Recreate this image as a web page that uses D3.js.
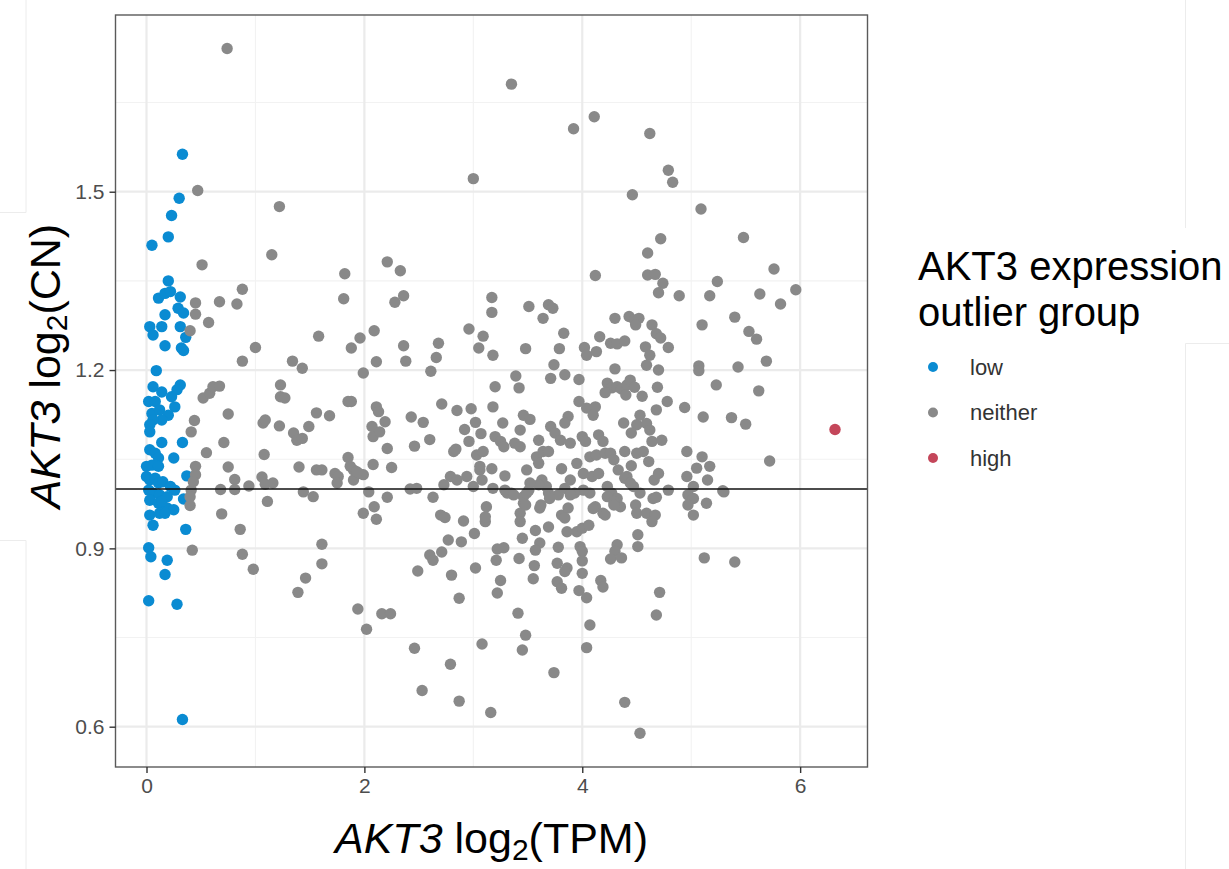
<!DOCTYPE html>
<html>
<head>
<meta charset="utf-8">
<script src="https://cdn.jsdelivr.net/npm/d3@7"></script>
<style>
  body { margin: 0; background: #fff; }
  svg { display: block; font-family: "Liberation Sans", Arial, sans-serif; }
</style>
</head>
<body>
<div id="chart"></div>
<script>
// AKT3 log2(TPM), AKT3 log2(CN) pairs per outlier group
const lowPoints = [
  [0.33,1.563],[0.30,1.489],[0.23,1.46],[0.20,1.424],[0.05,1.41],[0.20,1.35],
  [0.11,1.321],[0.17,1.329],[0.22,1.332],[0.31,1.323],[0.29,1.304],[0.34,1.296],[0.17,1.293],
  [0.03,1.273],[0.06,1.259],[0.14,1.273],[0.31,1.273],[0.36,1.255],[0.17,1.241],[0.32,1.237],[0.34,1.233],
  [0.09,1.199],[0.06,1.172],[0.14,1.163],[0.31,1.175],[0.28,1.167],[0.23,1.155],[0.26,1.138],
  [0.02,1.147],[0.08,1.147],[0.05,1.127],[0.12,1.133],[0.20,1.124],[0.14,1.116],[0.06,1.116],
  [0.03,1.108],[0.03,1.096],[0.14,1.078],[0.33,1.078],[0.03,1.066],[0.08,1.06],[0.11,1.052],[0.25,1.052],
  [0.00,1.038],[0.05,1.04],[0.11,1.038],[0.37,1.022],[0.00,1.021],[0.03,1.015],[0.08,1.018],[0.11,1.01],
  [0.15,1.012],[0.22,1.004],[0.26,0.998],[0.02,0.998],[0.06,0.993],[0.12,0.99],[0.19,0.987],[0.34,0.983],
  [0.03,0.981],[0.11,0.976],[0.19,0.968],[0.25,0.965],[0.14,0.979],[0.03,0.956],[0.12,0.959],[0.17,0.959],
  [0.06,0.939],[0.36,0.932],[0.02,0.901],[0.04,0.886],[0.19,0.88],[0.17,0.856],[0.02,0.812],[0.28,0.806],
  [0.33,0.612]
]

const neitherPoints = [
  // sparse top
  [0.74,1.741],[0.47,1.502],[1.22,1.475],[1.15,1.394],[0.51,1.377],[1.82,1.362],[2.21,1.382],[2.33,1.367],
  [3.00,1.522],[3.35,1.681],[4.11,1.626],[3.92,1.606],[4.62,1.598],[4.79,1.536],[4.83,1.516],[4.46,1.495],
  [5.09,1.471],[4.72,1.421],[5.48,1.423],[4.60,1.397],[5.76,1.37],[4.12,1.359],[4.60,1.36],[4.67,1.361],
  [5.24,1.349],[4.74,1.346],[4.70,1.33],[4.89,1.325],[5.17,1.325],[5.63,1.328],[5.96,1.335],[5.82,1.311],
  // left side
  [0.45,1.313],[0.45,1.294],[0.40,1.266],[0.57,1.28],[0.67,1.315],[0.83,1.311],[0.88,1.336],[0.88,1.215],
  [1.00,1.238],[1.58,1.257],[1.81,1.32],[1.34,1.215],[1.43,1.203],[1.23,1.175],[1.23,1.155],[1.27,1.153],
  [0.52,1.153],[0.58,1.161],[0.61,1.172],[0.67,1.173],[0.44,1.115],[0.41,1.096],[0.75,1.126],[0.71,1.078],
  [0.55,1.061],[1.07,1.111],[1.09,1.116],[1.22,1.106],[1.08,1.058],[1.35,1.094],[1.38,1.082],[1.43,1.085],
  [1.49,1.105],[1.56,1.128],[1.68,1.123],[1.85,1.147],[0.45,1.038],[0.45,1.024],[0.43,1.012],[0.41,0.998],
  [0.40,0.987],[0.40,0.972],[0.75,1.037],[0.81,1.016],[0.81,0.999],[0.68,0.999],[0.94,1.005],[1.06,1.02],
  [1.09,1.008],[1.16,1.01],[1.40,1.037],[1.56,1.032],[1.61,1.032],[1.44,0.995],[1.53,0.987],[1.73,1.026],
  [1.76,1.021],[1.75,1.01],[1.85,1.053],[1.90,1.032],[1.95,1.026],[1.90,1.015],[1.99,1.024],
  [0.42,0.897],[0.69,0.958],[0.86,0.932],[0.88,0.89],[0.98,0.865],[1.11,0.979],[1.61,0.907],[1.61,0.874],
  [1.46,0.85],[1.39,0.826],
  // middle
  [2.28,1.314],[2.36,1.325],[2.09,1.266],[1.96,1.254],[1.88,1.237],[2.11,1.214],[1.99,1.195],[2.36,1.241],
  [2.38,1.215],[2.68,1.245],[2.66,1.221],[2.61,1.198],[2.96,1.269],[3.05,1.237],[1.88,1.147],[2.11,1.138],
  [2.13,1.13],[2.07,1.105],[2.08,1.088],[2.14,1.096],[2.19,1.113],[2.21,1.068],[2.43,1.121],[2.54,1.112],
  [2.46,1.072],[2.60,1.083],[2.71,1.143],[2.85,1.132],[2.98,1.135],[3.02,1.112],[2.92,1.10],[2.96,1.08],
  [3.07,1.093],[2.82,1.063],[2.84,1.067],[3.03,1.057],[2.08,1.041],[2.25,1.036],[1.87,1.038],[1.93,1.029],
  [2.04,0.995],[2.42,1.0],[2.48,1.001],[2.73,1.007],[2.79,1.021],[2.85,1.015],[2.94,1.021],[3.00,1.004],
  [3.06,1.032],[3.08,1.015],[2.21,0.986],[2.63,0.986],
  [1.99,0.959],[2.09,0.97],[2.11,0.949],[1.94,0.798],[2.16,0.79],[2.24,0.79],[2.02,0.764],[2.46,0.732],
  [2.53,0.661],[2.79,0.705],[2.87,0.643],[3.16,0.624],[3.08,0.739],[2.49,0.862],[2.80,0.855],[2.87,0.816],
  [3.02,0.867],[3.22,0.825],[3.25,0.846],[3.21,0.88],[2.60,0.889],[2.63,0.88],[2.71,0.894],[2.77,0.914],
  [2.89,0.911],[3.01,0.925],[2.70,0.956],[2.74,0.952],[2.91,0.946],[3.11,0.945],[3.22,0.899],[3.28,0.901],
  [3.41,0.791],
  // dense centre
  [3.17,1.322],[3.17,1.297],[3.51,1.307],[3.69,1.31],[3.73,1.304],[3.64,1.287],[3.09,1.257],[3.18,1.225],
  [3.48,1.236],[3.79,1.236],[3.83,1.262],[3.74,1.209],[3.84,1.192],[3.71,1.186],[3.97,1.184],[3.39,1.19],
  [3.42,1.17],[3.20,1.172],[3.18,1.138],
  [4.30,1.287],[4.43,1.29],[4.48,1.284],[4.52,1.287],[4.49,1.276],[4.64,1.276],[4.68,1.261],[4.72,1.254],
  [4.79,1.238],[4.16,1.256],[4.02,1.238],[4.04,1.225],[4.13,1.231],[4.26,1.245],[4.32,1.244],[4.39,1.249],
  [4.58,1.239],[4.62,1.225],[4.59,1.208],[4.70,1.2],[4.30,1.202],
  [5.10,1.276],[5.40,1.289],[5.53,1.265],[5.60,1.252],[5.69,1.215],[5.43,1.205],[5.07,1.207],[5.07,1.199],
  [5.23,1.175],[5.62,1.165],[5.11,1.121],[5.37,1.12],[5.50,1.109],[5.72,1.047],
  [4.94,1.137],[4.78,1.147],[4.68,1.133],[4.69,1.171],[4.55,1.156],
  [4.23,1.178],[4.27,1.170],[4.32,1.172],[4.36,1.168],[4.41,1.175],[4.44,1.183],[4.48,1.171],[4.21,1.162],
  [4.40,1.158],[3.97,1.147],[4.04,1.136],[4.12,1.138],[4.10,1.124],[3.87,1.122],[3.84,1.111],[3.46,1.124],
  [3.52,1.117],[3.27,1.111],[3.43,1.099],[3.71,1.105],[3.75,1.094],[3.80,1.082],[3.60,1.082],[3.20,1.088],
  [3.25,1.08],[3.28,1.071],[3.38,1.077],[3.43,1.071],[3.09,1.063],[3.17,1.034],[3.29,1.022],[3.49,1.032],
  [3.58,1.054],[3.64,1.063],[3.69,1.063],[3.81,1.034],[3.95,1.043],[4.00,1.088],[4.03,1.08],[4.15,1.091],
  [4.19,1.08],[4.07,1.054],[4.13,1.057],[4.21,1.06],[4.01,1.026],[4.09,1.021],[4.15,1.026],[4.26,1.06],
  [4.29,1.049],[4.33,1.032],[4.41,1.021],[4.39,1.063],[4.45,1.039],[4.50,1.06],[4.56,1.063],[4.61,1.046],
  [4.64,1.08],[4.73,1.082],[4.50,1.108],[4.66,1.015],[4.70,1.026],[4.79,0.998],[4.96,1.063],[5.10,1.054],
  [5.17,1.038],[5.05,1.035],[4.96,1.021],[5.02,1.004],[5.15,1.015],[5.29,0.997],[5.14,0.976],[4.65,0.984],
  [4.49,0.973],[4.50,0.959],[4.59,0.959],[4.67,0.956],[4.53,0.993],[4.47,1.004],[4.39,1.018],[4.44,1.01],
  [4.23,1.004],[4.27,0.993],[4.32,0.984],[4.35,0.97],[4.07,0.993],[4.12,0.97],[4.19,0.959],[4.01,0.998],
  [3.93,0.993],[3.78,0.99],[3.81,0.956],[3.87,0.968],[3.89,1.015],[3.84,1.001],[3.69,0.993],[3.67,1.004],
  [3.63,1.015],[3.60,1.007],[3.52,1.01],[3.51,0.998],[3.61,0.968],[3.46,0.976],[3.43,0.959],[3.35,0.993],
  [3.29,0.998],[3.18,1.001],[3.12,0.97],[3.11,0.953],[3.06,1.038],
  [4.38,1.111],[4.45,1.094],[4.53,1.124],[4.59,1.11],[4.62,1.099],[3.89,1.077],[3.60,1.043],
  [3.46,0.987],[3.49,0.993],[3.31,0.993],[3.37,0.99],[3.89,0.99],[4.23,0.987],[4.29,0.979],[4.97,0.99],
  [5.02,0.984],[5.30,0.995],[4.68,0.986],[3.62,0.973],[3.70,0.984],
  // lower centre
  [3.43,0.945],[3.48,0.973],[3.45,0.917],[3.57,0.93],[3.69,0.936],[3.61,0.909],[3.57,0.897],[3.42,0.883],
  [3.56,0.871],[3.55,0.849],[3.48,0.754],[3.45,0.729],[3.74,0.691],[3.78,0.902],[3.77,0.875],[3.86,0.867],
  [3.84,0.861],[3.77,0.844],[3.81,0.833],[3.84,0.951],[3.86,0.928],[3.95,0.928],[4.00,0.934],[4.06,0.939],
  [3.98,0.903],[4.00,0.895],[4.00,0.879],[4.00,0.858],[3.97,0.829],[4.04,0.817],[4.07,0.771],[4.04,0.733],
  [4.10,0.967],[4.21,0.956],[4.29,0.973],[4.32,0.906],[4.30,0.895],[4.26,0.882],[4.36,0.884],[4.17,0.846],
  [4.19,0.835],[4.39,0.641],[4.53,0.589],[4.64,0.945],[4.51,0.923],[4.51,0.903],[4.71,0.826],[4.68,0.788],
  [4.97,0.973],[5.02,0.956],[5.12,0.884],[5.40,0.877]
]

const highPoints = [[6.32,1.10]]

const groups = ['low', 'neither', 'high']
const groupColors = ['#0A8BD2', '#898989', '#C4465A']
const xTicks = [0, 2, 4, 6]
const xMinor = [1, 3, 5]
const yTicks = [0.6, 0.9, 1.2, 1.5]
const yMinor = [0.75, 1.05, 1.35, 1.65]
const refLine = 1.0

const width = 1229
const height = 869
const panel = { left: 115.5, right: 867.5, top: 15, bottom: 767 }

const svg = d3.select('#chart')
  .append('svg')
  .attr('width', width)
  .attr('height', height)
  .attr('viewBox', `0 0 ${width} ${height}`)

// faint screenshot seams around the figure
const seams = svg.append('g').attr('stroke', '#ececec').attr('stroke-width', 1)
seams.append('line').attr('x1', 0).attr('x2', 26).attr('y1', 212.5).attr('y2', 212.5)
seams.append('line').attr('x1', 26).attr('x2', 26).attr('y1', 0).attr('y2', 212.5)
seams.append('line').attr('x1', 0).attr('x2', 26).attr('y1', 540.5).attr('y2', 540.5)
seams.append('line').attr('x1', 26).attr('x2', 26).attr('y1', 540.5).attr('y2', height)
seams.append('line').attr('x1', 1185.5).attr('x2', 1185.5).attr('y1', 0).attr('y2', 228)
seams.append('line').attr('x1', 1185.5).attr('x2', 1185.5).attr('y1', 343.5).attr('y2', height)
seams.append('line').attr('x1', 1185.5).attr('x2', width).attr('y1', 343.5).attr('y2', 343.5)

const x = d3.scaleLinear()
  .domain([-0.2846, 6.6183])
  .range([panel.left, panel.right])

const y = d3.scaleLinear()
  .domain([0.5322, 1.7973])
  .range([panel.bottom, panel.top])

const color = d3.scaleOrdinal().domain(groups).range(groupColors)

// grid
const grid = svg.append('g')
grid.selectAll('.xminor').data(xMinor).enter().append('line')
  .attr('x1', d => x(d)).attr('x2', d => x(d))
  .attr('y1', panel.top).attr('y2', panel.bottom)
  .attr('stroke', '#f2f2f2').attr('stroke-width', 1.1)
grid.selectAll('.yminor').data(yMinor).enter().append('line')
  .attr('y1', d => y(d)).attr('y2', d => y(d))
  .attr('x1', panel.left).attr('x2', panel.right)
  .attr('stroke', '#f2f2f2').attr('stroke-width', 1.1)
grid.selectAll('.xmajor').data(xTicks).enter().append('line')
  .attr('x1', d => x(d)).attr('x2', d => x(d))
  .attr('y1', panel.top).attr('y2', panel.bottom)
  .attr('stroke', '#ebebeb').attr('stroke-width', 2.2)
grid.selectAll('.ymajor').data(yTicks).enter().append('line')
  .attr('y1', d => y(d)).attr('y2', d => y(d))
  .attr('x1', panel.left).attr('x2', panel.right)
  .attr('stroke', '#ebebeb').attr('stroke-width', 2.2)

// points
const allPoints = [
  ...lowPoints.map(p => ({ x: p[0], y: p[1], g: 'low' })),
  ...neitherPoints.map(p => ({ x: p[0], y: p[1], g: 'neither' })),
  ...highPoints.map(p => ({ x: p[0], y: p[1], g: 'high' }))
]

svg.append('g')
  .selectAll('circle')
  .data(allPoints)
  .enter()
  .append('circle')
  .attr('cx', d => x(d.x))
  .attr('cy', d => y(d.y))
  .attr('r', 5.7)
  .attr('fill', d => color(d.g))

// reference line at CN = 1
svg.append('line')
  .attr('x1', panel.left).attr('x2', panel.right)
  .attr('y1', y(refLine)).attr('y2', y(refLine))
  .attr('stroke', '#111').attr('stroke-width', 1.6)

// panel border
svg.append('rect')
  .attr('x', panel.left).attr('y', panel.top)
  .attr('width', panel.right - panel.left)
  .attr('height', panel.bottom - panel.top)
  .attr('fill', 'none')
  .attr('stroke', '#5a5a5a')
  .attr('stroke-width', 1.4)

// axes
const xAxis = svg.append('g')
  .attr('transform', `translate(0,${panel.bottom})`)
  .call(d3.axisBottom(x).tickValues(xTicks).tickSize(6).tickPadding(5).tickFormat(d3.format('d')))
const yAxis = svg.append('g')
  .attr('transform', `translate(${panel.left},0)`)
  .call(d3.axisLeft(y).tickValues(yTicks).tickSize(6).tickPadding(5).tickFormat(d3.format('.1f')))

;[xAxis, yAxis].forEach(a => {
  a.select('.domain').remove()
  a.selectAll('.tick line').attr('stroke', '#333').attr('stroke-width', 1.4)
  a.selectAll('.tick text')
    .attr('fill', '#4d4d4d')
    .style('font-size', '21px')
    .style('font-family', '"Liberation Sans", Arial, sans-serif')
})

// axis titles
const xTitle = svg.append('text')
  .attr('x', (panel.left + panel.right) / 2)
  .attr('y', 853)
  .attr('text-anchor', 'middle')
  .style('font-size', '43px')
  .attr('fill', '#000')
xTitle.append('tspan').style('font-style', 'italic').text('AKT3')
xTitle.append('tspan').text(' log')
xTitle.append('tspan').attr('dy', 7).style('font-size', '30px').text('2')
xTitle.append('tspan').attr('dy', -7).text('(TPM)')

const yTitle = svg.append('text')
  .attr('transform', `translate(60,366) rotate(-90)`)
  .attr('text-anchor', 'middle')
  .style('font-size', '43px')
  .attr('fill', '#000')
yTitle.append('tspan').style('font-style', 'italic').text('AKT3')
yTitle.append('tspan').text(' log')
yTitle.append('tspan').attr('dy', 7).style('font-size', '30px').text('2')
yTitle.append('tspan').attr('dy', -7).text('(CN)')

// legend
const legend = svg.append('g').attr('transform', 'translate(918,0)')
legend.append('text').attr('x', 0).attr('y', 280).style('font-size', '40px').text('AKT3 expression')
legend.append('text').attr('x', 0).attr('y', 326).style('font-size', '40px').text('outlier group')

const items = legend.selectAll('.item')
  .data(groups)
  .enter()
  .append('g')
  .attr('transform', (d, i) => `translate(0,${367 + i * 45.5})`)
items.append('circle')
  .attr('cx', 15)
  .attr('cy', 0)
  .attr('r', 5)
  .attr('fill', d => color(d))
items.append('text')
  .attr('x', 52)
  .attr('y', 0)
  .attr('dy', '0.35em')
  .style('font-size', '22px')
  .attr('fill', '#333')
  .text(d => d)
</script>
</body>
</html>
